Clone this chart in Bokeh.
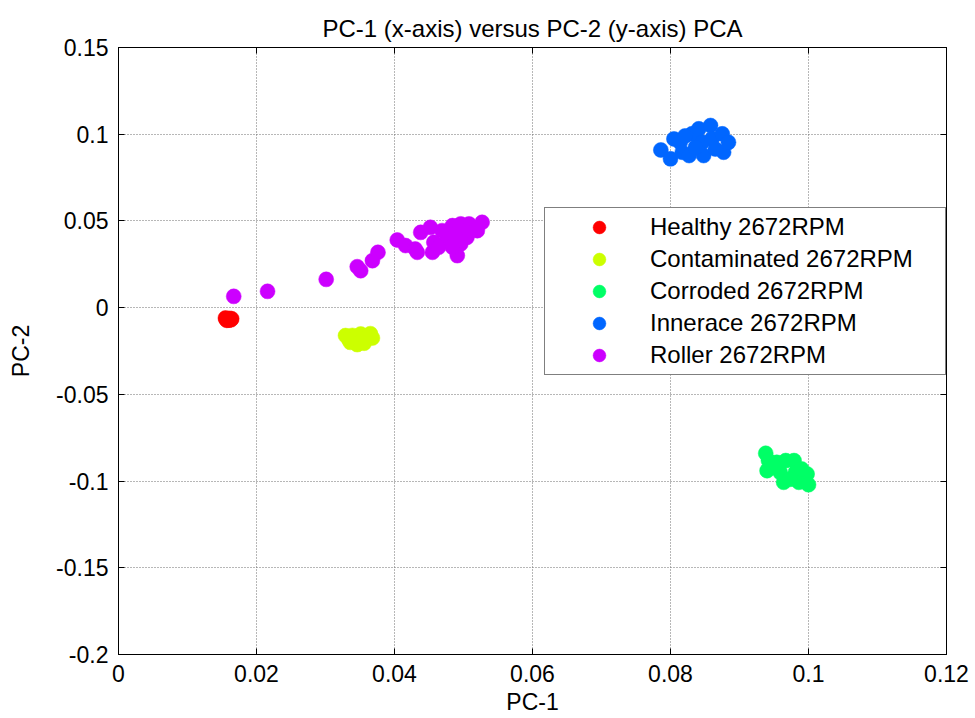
from bokeh.plotting import figure
from bokeh.models import FixedTicker, LinearAxis, Legend, LegendItem, Range1d
from bokeh.embed import file_html
from bokeh.resources import INLINE

# ---------------- data ----------------
title_text = "PC-1 (x-axis) versus PC-2 (y-axis) PCA"
x_label = "PC-1"
y_label = "PC-2"

x_ticks = [0, 0.02, 0.04, 0.06, 0.08, 0.1, 0.12]
x_tick_labels = ["0", "0.02", "0.04", "0.06", "0.08", "0.1", "0.12"]
y_ticks = [-0.2, -0.15, -0.1, -0.05, 0, 0.05, 0.1, 0.15]
y_tick_labels = ["-0.2", "-0.15", "-0.1", "-0.05", "0", "0.05", "0.1", "0.15"]

series_names = ["Healthy 2672RPM", "Contaminated 2672RPM", "Corroded 2672RPM",
                "Innerace 2672RPM", "Roller 2672RPM"]
series_colors = ["#ff0000", "#ccff00", "#00ff66", "#0066ff", "#cc00ff"]

healthy_x = [0.0155, 0.0158, 0.0161, 0.0163, 0.0157, 0.0160, 0.0164, 0.0156]
healthy_y = [-0.0060, -0.0066, -0.0062, -0.0070, -0.0073, -0.0072, -0.0064, -0.0068]

contaminated_x = [0.0329, 0.0336, 0.0346, 0.0356, 0.0351, 0.0365, 0.0368, 0.0339,
                  0.0343, 0.0350, 0.0358, 0.0334]
contaminated_y = [-0.0161, -0.0200, -0.0213, -0.0205, -0.0152, -0.0150, -0.0175, -0.0160,
                  -0.0190, -0.0200, -0.0175, -0.0185]

corroded_x = [0.0938, 0.0942, 0.0940, 0.0954, 0.0959, 0.0967, 0.0964, 0.0979,
              0.0981, 0.0986, 0.0998, 0.1000, 0.0973, 0.0950, 0.0990]
corroded_y = [-0.0840, -0.0882, -0.0940, -0.0892, -0.0950, -0.0882, -0.1007, -0.0882,
              -0.0950, -0.1007, -0.0959, -0.1021, -0.0990, -0.0915, -0.0930]

innerace_x = [0.0786, 0.0800, 0.0805, 0.0814, 0.0817, 0.0827, 0.0831, 0.0841, 0.0848,
              0.0846, 0.0858, 0.0860, 0.0875, 0.0877, 0.0884, 0.0836, 0.0865, 0.0821]
innerace_y = [0.0909, 0.0858, 0.0973, 0.0953, 0.0896, 0.0877, 0.1002, 0.1031, 0.0877,
              0.0953, 0.1050, 0.0973, 0.1002, 0.0896, 0.0953, 0.0924, 0.0915, 0.0990]

roller_x = [0.0167, 0.0216, 0.0301, 0.0346, 0.0351, 0.0368, 0.0376,
            0.0404, 0.0416, 0.0430, 0.0433, 0.0438, 0.0452, 0.0455, 0.0457, 0.0469,
            0.0476, 0.0484, 0.0491, 0.0496, 0.0496, 0.0505, 0.0508, 0.0500, 0.0527,
            0.0520, 0.0464, 0.0484, 0.0476, 0.0488]
roller_y = [0.0065, 0.0094, 0.0163, 0.0236, 0.0213, 0.0271, 0.0319,
            0.0390, 0.0358, 0.0338, 0.0319, 0.0434, 0.0463, 0.0319, 0.0377, 0.0444,
            0.0386, 0.0473, 0.0300, 0.0483, 0.0367, 0.0405, 0.0483, 0.0444, 0.0492,
            0.0444, 0.0348, 0.0348, 0.0430, 0.0415]

series_x = [healthy_x, contaminated_x, corroded_x, innerace_x, roller_x]
series_y = [healthy_y, contaminated_y, corroded_y, innerace_y, roller_y]

# ---------------- figure ----------------
FONT = "Liberation Sans"

p = figure(width=975, height=718,
           x_range=Range1d(x_ticks[0], x_ticks[-1]),
           y_range=Range1d(y_ticks[0], y_ticks[-1]),
           output_backend="svg", toolbar_location=None,
           min_border_left=118, min_border_right=29,
           min_border_top=47, min_border_bottom=64)

p.background_fill_color = "white"
p.border_fill_color = "white"
p.outline_line_color = "black"
p.outline_line_width = 1

p.title.text = title_text
p.title.align = "center"
p.title.text_font = FONT
p.title.text_font_size = "24px"
p.title.text_font_style = "normal"
p.title.text_color = "black"
p.title.standoff = 11


def style_axis(ax):
    ax.axis_line_color = "black"
    ax.major_tick_line_color = "black"
    ax.minor_tick_line_color = "black"
    ax.major_tick_in = 6
    ax.major_tick_out = 0
    ax.minor_tick_in = 0
    ax.minor_tick_out = 0
    ax.major_label_text_font = FONT
    ax.major_label_text_color = "black"
    ax.major_label_text_font_size = "23px"
    ax.axis_label_text_font = FONT
    ax.axis_label_text_font_size = "23px"
    ax.axis_label_text_font_style = "normal"
    ax.axis_label_text_color = "black"


xa = p.xaxis[0]
xa.ticker = FixedTicker(ticks=x_ticks)
xa.major_label_overrides = {t: s for t, s in zip(x_ticks, x_tick_labels)}
xa.axis_label = x_label
style_axis(xa)
xa.major_label_standoff = 10
xa.axis_label_standoff = 4

ya = p.yaxis[0]
ya.ticker = FixedTicker(ticks=y_ticks)
ya.major_label_overrides = {t: s for t, s in zip(y_ticks, y_tick_labels)}
ya.axis_label = y_label
style_axis(ya)
ya.major_label_standoff = 10
ya.axis_label_standoff = 19

# box ticks on top and right: inward minor ticks only, no labels
top_ax = LinearAxis(ticker=FixedTicker(ticks=[], minor_ticks=x_ticks))
style_axis(top_ax)
top_ax.minor_tick_in = 6
top_ax.major_label_standoff = 0
p.add_layout(top_ax, "above")

right_ax = LinearAxis(ticker=FixedTicker(ticks=[], minor_ticks=y_ticks))
style_axis(right_ax)
right_ax.minor_tick_in = 6
right_ax.major_label_standoff = 0
p.add_layout(right_ax, "right")

for g in (p.xgrid[0], p.ygrid[0]):
    g.grid_line_color = "#6e6e6e"
    g.grid_line_dash = "1 2"
    g.grid_line_width = 1
p.xgrid[0].ticker = FixedTicker(ticks=x_ticks)
p.ygrid[0].ticker = FixedTicker(ticks=y_ticks)

items = []
for name, color, xs, ys in zip(series_names, series_colors, series_x, series_y):
    r = p.scatter(xs, ys, size=15, marker="circle",
                  fill_color=color, line_color=color, line_width=0.5)
    items.append(LegendItem(label=name, renderers=[r]))

legend = Legend(items=items, location=(426, 279),
                orientation="vertical",
                padding=3, spacing=0, margin=0,
                glyph_width=102, glyph_height=32,
                label_height=20, label_width=292, label_standoff=0,
                label_text_font=FONT, label_text_font_size="24px",
                label_text_color="black",
                border_line_color="black", border_line_width=1,
                background_fill_color="white", background_fill_alpha=1.0)
p.add_layout(legend, "center")

open("out.html", "w").write(file_html(p, INLINE))
